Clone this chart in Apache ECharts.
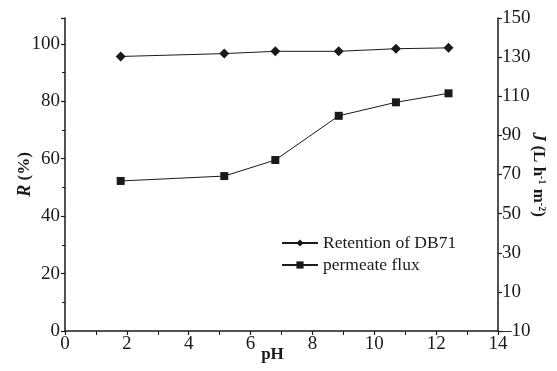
<!DOCTYPE html>
<html>
<head>
<meta charset="utf-8">
<script src="https://cdn.jsdelivr.net/npm/echarts@6/dist/echarts.min.js"></script>
<style>
  html, body { margin: 0; padding: 0; background: #fff; }
  #main { width: 557px; height: 371px; }
</style>
</head>
<body>
<div id="main"></div>
<script>
// pH values
var phValues = [1.8, 5.15, 6.8, 8.85, 10.7, 12.4];
// retention of DB71, %, left axis
var retention = [95.6, 96.6, 97.4, 97.4, 98.3, 98.6];
// permeate flux, L h-1 m-2, right axis
var flux = [66.7, 69.2, 77.4, 100, 106.9, 111.5];

var seriesNames = ['Retention of DB71', 'permeate flux'];

function pairs(xs, ys) {
  var out = [];
  for (var i = 0; i < xs.length; i++) out.push([xs[i], ys[i]]);
  return out;
}

var font = 'Liberation Serif';
var black = '#1a1a1a';

var chart = echarts.init(document.getElementById('main'));
var option = {
  backgroundColor: '#fff',
  animation: false,
  textStyle: { fontFamily: font, color: black },
  grid: { left: 65, right: 59, top: 18, bottom: 40, outerBoundsMode: 'none', containLabel: false },
  legend: {
    orient: 'vertical',
    left: 276,
    top: 229,
    itemWidth: 36,
    itemHeight: 9,
    itemGap: 4,
    data: seriesNames,
    textStyle: { fontFamily: font, fontSize: 17.5, color: black }
  },
  xAxis: {
    type: 'value',
    min: 0, max: 14, interval: 2,
    name: 'pH',
    nameLocation: 'middle',
    nameGap: 15,
    nameMoveOverlap: false,
    nameTextStyle: { fontFamily: font, fontSize: 17, fontWeight: 'bold', color: black, padding: [0, 18, 0, 0] },
    axisLine: { onZero: false, lineStyle: { color: black, width: 1.5 } },
    axisTick: { show: true, length: 4, inside: false, lineStyle: { color: black, width: 1.2 } },
    minorTick: { show: true, splitNumber: 2, length: 4, lineStyle: { color: black } },
    axisLabel: { fontFamily: font, fontSize: 19, color: black, margin: 4 },
    splitLine: { show: false }
  },
  yAxis: [
    {
      type: 'value',
      min: 0, max: 109, interval: 20,
      name: '{i|R} (%)',
      nameLocation: 'middle',
      nameGap: 31,
      nameRotate: 90,
      nameMoveOverlap: false,
      nameTextStyle: {
        fontFamily: font, fontSize: 17, fontWeight: 'bold', color: black,
        rich: { i: { fontFamily: font, fontSize: 18, fontWeight: 'bold', fontStyle: 'italic', color: black } }
      },
      axisLine: { show: true, lineStyle: { color: black, width: 1.5 } },
      axisTick: { show: true, length: 4, lineStyle: { color: black, width: 1.2 } },
      minorTick: { show: true, splitNumber: 2, length: 3, lineStyle: { color: black } },
      axisLabel: {
        fontFamily: font, fontSize: 19, color: black, margin: 5,
        formatter: function (v) { return v % 20 === 0 ? v : ''; }
      },
      splitLine: { show: false }
    },
    {
      type: 'value',
      min: -10, max: 150, interval: 20,
      name: '{i|J} (L h{s|-1} m{s|-2})',
      nameLocation: 'middle',
      nameGap: 31,
      nameRotate: -90,
      nameMoveOverlap: false,
      nameTextStyle: {
        fontFamily: font, fontSize: 17, fontWeight: 'bold', color: black,
        rich: {
          i: { fontFamily: font, fontSize: 18, fontWeight: 'bold', fontStyle: 'italic', color: black },
          s: { fontFamily: font, fontSize: 10, fontWeight: 'bold', color: black, padding: [0, 0, 8, 0] }
        }
      },
      axisLine: { show: true, lineStyle: { color: black, width: 1.5 } },
      axisTick: { show: true, length: 4, lineStyle: { color: black, width: 1.2 } },
      axisLabel: {
        fontFamily: font, fontSize: 19, color: black, margin: 4,
        formatter: function (v) { return v < 0 ? '\u2013' + Math.abs(v) : v; }
      },
      splitLine: { show: false }
    }
  ],
  series: [
    {
      name: seriesNames[0],
      type: 'line',
      yAxisIndex: 0,
      data: pairs(phValues, retention),
      symbol: 'diamond',
      symbolSize: 10,
      itemStyle: { color: black },
      lineStyle: { color: black, width: 1 }
    },
    {
      name: seriesNames[1],
      type: 'line',
      yAxisIndex: 1,
      data: pairs(phValues, flux),
      symbol: 'rect',
      symbolSize: 8,
      itemStyle: { color: black },
      lineStyle: { color: black, width: 1 }
    }
  ]
};
chart.setOption(option);
</script>
</body>
</html>
